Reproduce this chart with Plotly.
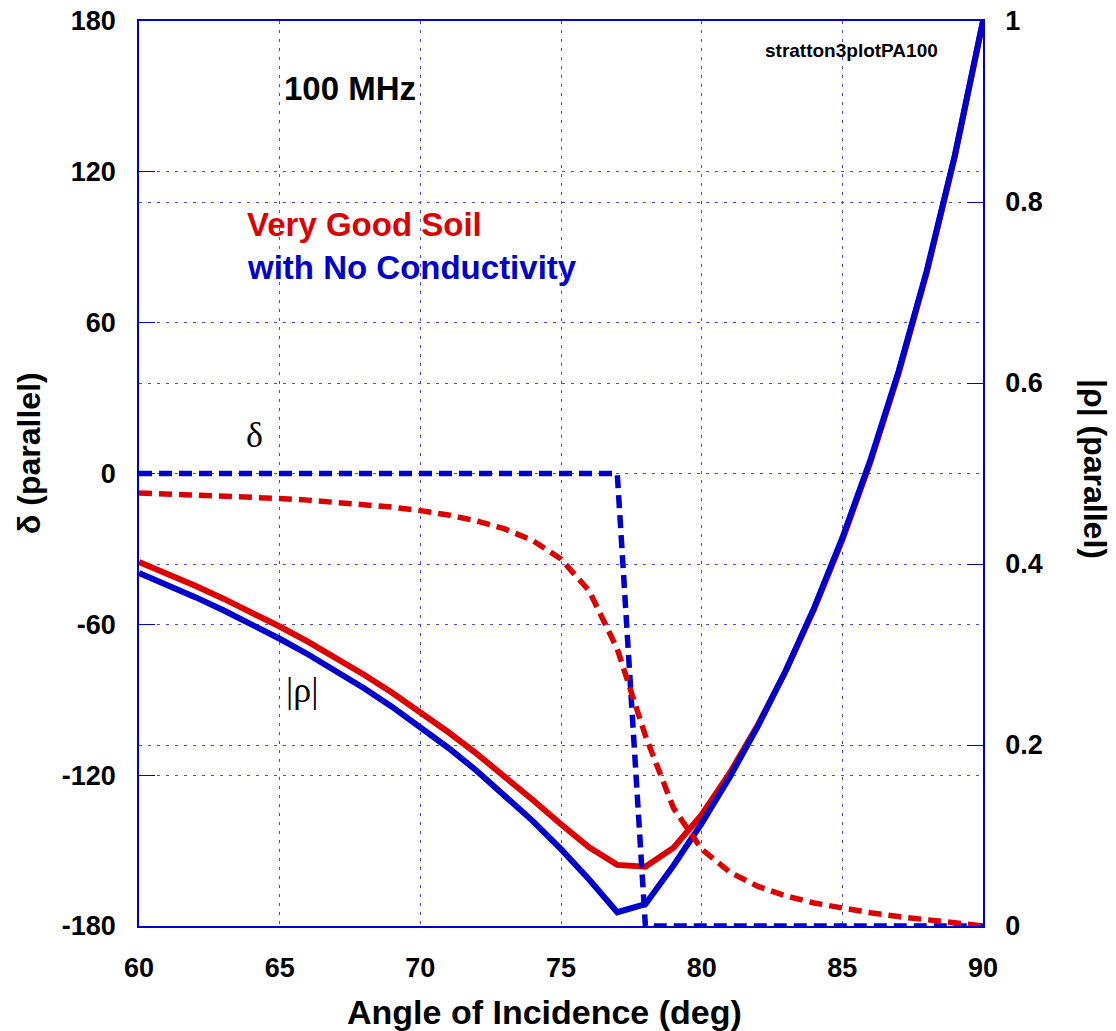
import plotly.graph_objects as go

# ---- data ----
angle = [60, 61, 62, 63, 64, 65, 66, 67, 68, 69, 70, 71, 72, 73, 74, 75,
         76, 77, 78, 79, 80, 81, 82, 83, 84, 85, 86, 87, 88, 89, 90]

rho_soil = [0.4021, 0.3893, 0.3759, 0.3617, 0.3467, 0.3309, 0.3142, 0.2964,
            0.2776, 0.2577, 0.2365, 0.2141, 0.1904, 0.1653, 0.1392, 0.1125,
            0.0869, 0.0675, 0.0654, 0.0865, 0.1231, 0.1691, 0.2223, 0.2826,
            0.3505, 0.4267, 0.5129, 0.6106, 0.7221, 0.8506, 1.0000]

delta_soil = [-7.71, -8.06, -8.44, -8.88, -9.37, -9.93, -10.59, -11.36,
              -12.28, -13.39, -14.77, -16.53, -18.85, -22.04, -26.69, -34.01,
              -46.66, -69.81, -104.29, -133.10, -149.42, -158.58, -164.23,
              -168.06, -170.85, -173.01, -174.76, -176.26, -177.59, -178.82,
              -180.00]

rho_noc = [0.3901, 0.3771, 0.3634, 0.3489, 0.3336, 0.3174, 0.3003, 0.2820,
           0.2627, 0.2421, 0.2201, 0.1967, 0.1716, 0.1447, 0.1159, 0.0849,
           0.0514, 0.0152, 0.0241, 0.0669, 0.1135, 0.1646, 0.2208, 0.2829,
           0.3518, 0.4288, 0.5151, 0.6128, 0.7240, 0.8517, 1.0000]

delta_noc = [0, 0, 0, 0, 0, 0, 0, 0, 0, 0, 0, 0, 0, 0, 0, 0, 0, 0,
             -180, -180, -180, -180, -180, -180, -180, -180, -180, -180,
             -180, -180, -180]

x_ticks = [60, 65, 70, 75, 80, 85, 90]
delta_ticks = [-180, -120, -60, 0, 60, 120, 180]
delta_tick_text = ["-180", "-120", "-60", "0", "60", "120", "180"]
rho_ticks = [0, 0.2, 0.4, 0.6, 0.8, 1]
rho_tick_text = ["0", "0.2", "0.4", "0.6", "0.8", "1"]

RED = "#dd0000"
BLUE = "#0000cc"
GRID = "#4a4adc"
GRID_DASH = "3px,6px"
FONT = "Liberation Sans"

fig = go.Figure()

# |rho| curves on the right axis (primary, drawn underneath)
fig.add_trace(go.Scatter(x=angle, y=rho_soil, mode="lines", yaxis="y",
                         line=dict(color=RED, width=6), showlegend=False))
fig.add_trace(go.Scatter(x=angle, y=rho_noc, mode="lines", yaxis="y",
                         line=dict(color=BLUE, width=6), showlegend=False))
# delta curves on the left axis (overlay, drawn on top)
fig.add_trace(go.Scatter(x=angle, y=delta_noc, mode="lines", yaxis="y2",
                         line=dict(color=BLUE, width=5.5, dash="13px,7px"),
                         showlegend=False))
fig.add_trace(go.Scatter(x=angle, y=delta_soil, mode="lines", yaxis="y2",
                         line=dict(color=RED, width=5.5, dash="13px,7px"),
                         showlegend=False))

tickfont = dict(family=FONT, size=27, color="black", weight="bold")

fig.update_layout(
    width=1116, height=1031,
    margin=dict(l=139, r=133, t=21, b=105),
    paper_bgcolor="white", plot_bgcolor="white",
    xaxis=dict(range=[60, 90], tickvals=x_ticks, showgrid=True,
               gridcolor=GRID, griddash=GRID_DASH, gridwidth=1.2,
               showline=True, linecolor=BLUE, linewidth=1.5, mirror=True,
               ticks="", tickfont=tickfont, ticklabelstandoff=17,
               zeroline=False, automargin=False),
    yaxis=dict(range=[0, 1], side="right", tickvals=rho_ticks,
               ticktext=rho_tick_text, showgrid=True, gridcolor=GRID,
               griddash=GRID_DASH, gridwidth=1.2, showline=True,
               linecolor=BLUE, linewidth=1.5, ticks="inside", ticklen=16,
               tickcolor=BLUE, tickwidth=1.3, tickfont=tickfont,
               ticklabelstandoff=15, zeroline=False, automargin=False),
    yaxis2=dict(range=[-180, 180], side="left", overlaying="y",
                tickvals=delta_ticks, ticktext=delta_tick_text,
                showgrid=True, gridcolor=GRID, griddash=GRID_DASH,
                gridwidth=1.2, showline=True, linecolor=BLUE, linewidth=1.5,
                ticks="inside", ticklen=16, tickcolor=BLUE, tickwidth=1.3,
                tickfont=tickfont, ticklabelstandoff=16, zeroline=False,
                automargin=False),
)

def note(text, x, y, size, color="black", bold=True, xanchor="center",
         angle=0, family=FONT):
    fig.add_annotation(text=text, x=x, y=y, xref="paper", yref="paper",
                       xanchor=xanchor, yanchor="middle", showarrow=False,
                       textangle=angle,
                       font=dict(family=family, size=size, color=color,
                                 weight="bold" if bold else "normal"))

note("100 MHz", 0.1694, 0.9249, 33, xanchor="left")
note("stratton3plotPA100", 0.8444, 0.9672, 19)
note("Very Good Soil", 0.1256, 0.7746, 33, color=RED, xanchor="left")
note("with No Conductivity", 0.1256, 0.7271, 33, color=BLUE, xanchor="left")
note("δ", 0.1374, 0.5425, 36, bold=False, family="Liberation Serif")
note("|ρ|", 0.1931, 0.2608, 36, bold=False, family="Liberation Serif")
note("δ (parallel)", -0.1303, 0.5227, 32, angle=-90)
note("|ρ| (parallel)", 1.1327, 0.505, 32, angle=90)
note("Angle of Incidence (deg)", 0.481, -0.095, 34)

fig.write_html(
    "out.html",
    config={"displayModeBar": False},
    post_script="document.body.style.margin='0';"
                "document.body.style.padding='0';"
                "document.body.style.overflow='hidden';",
)
